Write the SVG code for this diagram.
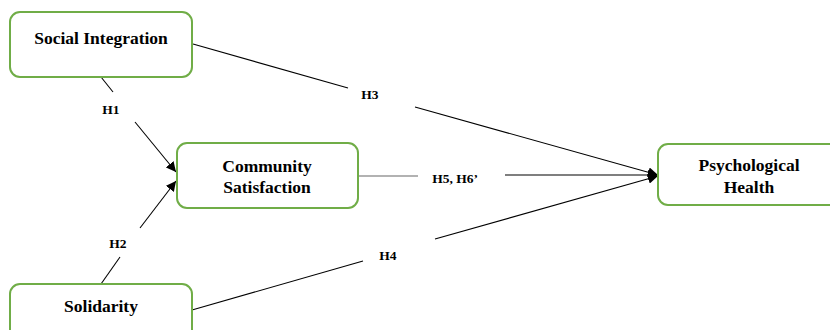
<svg xmlns="http://www.w3.org/2000/svg" width="830" height="330" viewBox="0 0 830 330">
<defs>
<marker id="arr" viewBox="0 0 10 10" refX="10" refY="5" markerWidth="10" markerHeight="10" markerUnits="userSpaceOnUse" orient="auto">
<path d="M0,0 L10,5 L0,10 z" fill="#000"/>
</marker>
<style>
.box{fill:#fff;stroke:#70ad47;stroke-width:2}
.t{font-weight:bold;font-size:17.5px;fill:#000;text-anchor:middle}
.l{font-weight:bold;font-size:13.5px;fill:#000;text-anchor:middle}
.c{stroke:#000;stroke-width:1.1;fill:none}
</style>
</defs>
<rect width="830" height="330" fill="#fff"/>
<g id="connectors" font-family="Liberation Serif, Times New Roman, serif">
<line class="c" x1="101" y1="77" x2="113" y2="92"/>
<line class="c" x1="135" y1="122" x2="176" y2="172" marker-end="url(#arr)"/>
<line class="c" x1="101" y1="284" x2="120" y2="257"/>
<line class="c" x1="140" y1="228" x2="176" y2="181" marker-end="url(#arr)"/>
<line class="c" x1="193" y1="44" x2="348" y2="88"/>
<line class="c" x1="415" y1="107" x2="658" y2="175" marker-end="url(#arr)"/>
<line class="c" x1="359" y1="176" x2="418" y2="176" style="stroke:#666"/>
<line class="c" x1="505" y1="175" x2="658" y2="175" marker-end="url(#arr)"/>
<line class="c" x1="192" y1="310" x2="363" y2="261"/>
<line class="c" x1="435" y1="239" x2="658" y2="176" marker-end="url(#arr)"/>
<text class="l" x="111" y="114">H1</text>
<text class="l" x="118" y="248">H2</text>
<text class="l" x="370" y="99">H3</text>
<text class="l" x="388" y="260">H4</text>
<text class="l" x="455" y="183">H5, H6’</text>
</g>
<g id="social-integration" font-family="Liberation Serif, Times New Roman, serif">
<rect class="box" x="10" y="12" width="182" height="65" rx="10"/>
<text class="t" x="101" y="44">Social Integration</text>
</g>
<g id="community-satisfaction" font-family="Liberation Serif, Times New Roman, serif">
<rect class="box" x="177" y="143" width="181" height="65" rx="10"/>
<text class="t" x="267" y="172">Community</text>
<text class="t" x="267" y="193">Satisfaction</text>
</g>
<g id="psychological-health" font-family="Liberation Serif, Times New Roman, serif">
<rect class="box" x="658" y="144" width="190" height="61" rx="10"/>
<text class="t" x="749" y="171">Psychological</text>
<text class="t" x="749" y="193">Health</text>
</g>
<g id="solidarity" font-family="Liberation Serif, Times New Roman, serif">
<rect class="box" x="10" y="284" width="182" height="65" rx="10"/>
<text class="t" x="101" y="312">Solidarity</text>
</g>
</svg>
